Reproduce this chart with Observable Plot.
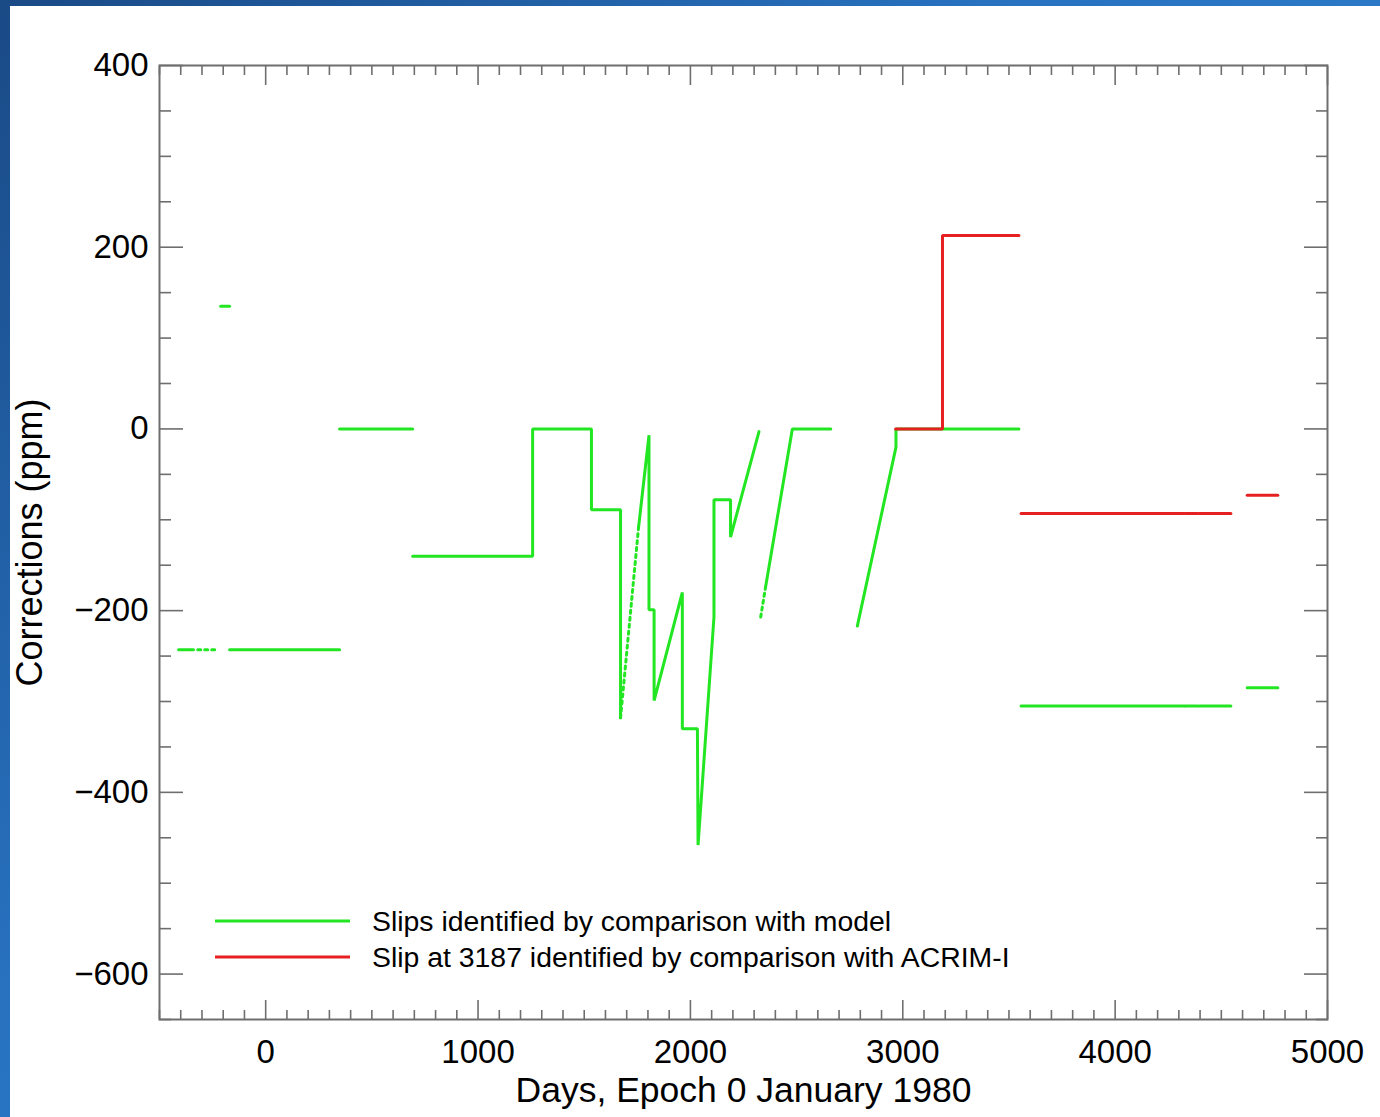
<!DOCTYPE html>
<html>
<head>
<meta charset="utf-8">
<script src="https://cdn.jsdelivr.net/npm/d3@7"></script>
<script src="https://cdn.jsdelivr.net/npm/@observablehq/plot@0.6"></script>
<style>
  html, body { margin: 0; padding: 0; }
  #page {
    position: relative; width: 1380px; height: 1117px; overflow: hidden;
    background: linear-gradient(135deg, #1a4a86 0%, #2872c0 40%, #3189da 100%);
    font-family: "Liberation Sans", Arial, sans-serif;
  }
  #chart { position: absolute; left: 10px; top: 6px; width: 1370px; height: 1111px; background: #fff; }
  #legend { position: absolute; left: 0; top: 0; pointer-events: none; }
</style>
</head>
<body>
<div id="page"><div id="chart"></div></div>
<script>
// ---------- data ----------
const xTitle = "Days, Epoch 0 January 1980";
const yTitle = "Corrections (ppm)";
const xTicks = [0, 1000, 2000, 3000, 4000, 5000];
const yTicks = [-600, -400, -200, 0, 200, 400];
const seriesNames = [
  "Slips identified by comparison with model",
  "Slip at 3187 identified by comparison with ACRIM-I"
];

// Series 1 (model comparison): segment id, day, correction (ppm)
const modelSeg = [1,1, 2,2, 3,3, 4,4, 5,5,
  6,6,6,6,6,6,6,
  7,7,
  8,8,8,8,8,8,8,8,8,8,8,8,8,8,
  9,9,
  10,10,10,
  11,11,11,11,
  12,12, 13,13, 14,14, 15,15];
const modelDay = [-212,-170, -410,-340, -320,-235, -170,348, 348,692,
  692,1257,1257,1534,1534,1671,1671,
  1671,1756,
  1756,1805,1805,1829,1829,1962,1962,2033,2036,2111,2111,2189,2189,2323,
  2331,2354,
  2354,2480,2661,
  2786,2968,2968,3547,
  3557,4325, 4330,4388, 4395,4545, 4622,4766];
const modelPpm = [135,135, -243,-243, -243,-243, -243,-243, 0,0,
  -140,-140,0,0,-89,-89,-318,
  -318,-108,
  -108,-7,-199,-199,-299,-180,-330,-330,-458,-207,-78,-78,-119,-3,
  -207,-174,
  -174,0,0,
  -217,-20,0,0,
  -305,-305, -305,-305, -305,-305, -285,-285];

// Series 2 (ACRIM-I comparison)
const acrimSeg = [1,1,1,1, 2,2, 3,3, 4,4, 5,5];
const acrimDay = [2966,3187,3187,3547, 3557,4325, 4330,4388, 4395,4545, 4622,4766];
const acrimPpm = [0,0,213,213, -93,-93, -93,-93, -93,-93, -73,-73];

// ---------- styling ----------
const green = "#22e622";
const red = "#e62020";
const gray = "#6e6e6e";
const dottedSegments = new Set([3, 7, 9]);

const model = modelDay.map((d, i) => ({seg: modelSeg[i], day: d, ppm: modelPpm[i]}));
const acrim = acrimDay.map((d, i) => ({seg: acrimSeg[i], day: d, ppm: acrimPpm[i]}));

const xMinor = d3.range(-500, 5001, 100).filter(v => !xTicks.includes(v));
const yMinor = d3.range(-650, 401, 50).filter(v => !yTicks.includes(v));
const fmt = d => d < 0 ? "\u2212" + Math.abs(d) : String(d);

const tickAxis = (axis, vals, anchor, size) =>
  axis(vals, {anchor, tickSize: -size, text: null, tickFormat: () => "", label: null, stroke: gray, strokeWidth: 1.6});

const chart = Plot.plot({
  width: 1370, height: 1111,
  marginLeft: 149, marginRight: 53, marginTop: 59, marginBottom: 98,
  style: {background: "white", fontFamily: "'Liberation Sans', Arial, sans-serif", color: "#000", overflow: "visible"},
  x: {domain: [-500, 5000]},
  y: {domain: [-650, 400]},
  marks: [
    Plot.line(model.filter(d => !dottedSegments.has(d.seg)), {x: "day", y: "ppm", z: "seg", stroke: green, strokeWidth: 3, strokeLinejoin: "miter"}),
    Plot.line(model.filter(d => dottedSegments.has(d.seg)), {x: "day", y: "ppm", z: "seg", stroke: green, strokeWidth: 3, strokeDasharray: "3,4"}),
    Plot.line(acrim, {x: "day", y: "ppm", z: "seg", stroke: red, strokeWidth: 3, strokeLinejoin: "miter"}),
    Plot.frame({stroke: gray, strokeWidth: 2}),
    tickAxis(Plot.axisX, xMinor, "bottom", 9),
    tickAxis(Plot.axisX, xMinor, "top", 9),
    tickAxis(Plot.axisX, xTicks, "bottom", 19),
    tickAxis(Plot.axisX, xTicks, "top", 19),
    tickAxis(Plot.axisY, yMinor, "left", 12),
    tickAxis(Plot.axisY, yMinor, "right", 12),
    tickAxis(Plot.axisY, yTicks, "left", 24),
    tickAxis(Plot.axisY, yTicks, "right", 24),
    Plot.axisX(xTicks, {anchor: "bottom", tickSize: 0, tickPadding: 20, tickFormat: fmt, label: null, fontSize: 33, fill: "#000"}),
    Plot.axisY(yTicks, {anchor: "left", tickSize: 0, tickPadding: 11, tickFormat: fmt, label: null, fontSize: 33, fill: "#000"}),
    Plot.text([xTitle], {frameAnchor: "bottom", lineAnchor: "middle", textAnchor: "middle", dy: 71, fontSize: 35.5, fill: "#000"}),
    Plot.text([yTitle], {frameAnchor: "left", lineAnchor: "middle", textAnchor: "middle", dx: -129, rotate: -90, fontSize: 36, fill: "#000"})
  ]
});
document.getElementById("chart").appendChild(chart);

// ---------- legend (inside the plot frame, lower left) ----------
const ns = "http://www.w3.org/2000/svg";
const leg = document.createElementNS(ns, "svg");
leg.setAttribute("id", "legend");
leg.setAttribute("width", 1380);
leg.setAttribute("height", 1117);
[[green, 921], [red, 957]].forEach(([c, y], i) => {
  const l = document.createElementNS(ns, "line");
  l.setAttribute("x1", 215); l.setAttribute("x2", 350);
  l.setAttribute("y1", y); l.setAttribute("y2", y);
  l.setAttribute("stroke", c); l.setAttribute("stroke-width", 3);
  leg.appendChild(l);
  const t = document.createElementNS(ns, "text");
  t.setAttribute("x", 372); t.setAttribute("y", y); t.setAttribute("dy", "0.35em");
  t.setAttribute("font-size", 28.4);
  t.setAttribute("font-family", "'Liberation Sans', Arial, sans-serif");
  t.textContent = seriesNames[i];
  leg.appendChild(t);
});
document.getElementById("page").appendChild(leg);
</script>
</body>
</html>
